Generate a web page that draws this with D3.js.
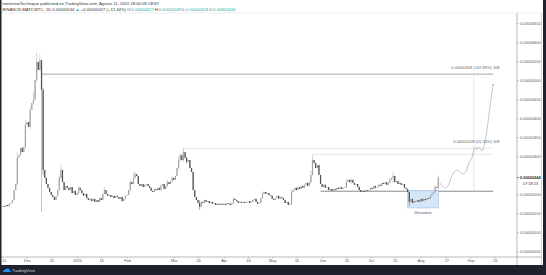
<!DOCTYPE html>
<html>
<head>
<meta charset="utf-8">
<script src="https://cdn.jsdelivr.net/npm/d3@7"></script>
<style>
html, body { margin: 0; padding: 0; background: #fff; }
svg { display: block; font-family: "Liberation Sans", Arial, sans-serif; }
</style>
</head>
<body>
<div id="okvir"></div>
<script>
// daily closes in satoshi (1e-8 BTC), first candle 2019-11-15
const firstDay = "2019-11-15"
const closes = [
  167,169,167,172,169,175,177,185,211,227,
  296,303,322,311,325,382,390,377,422,440,
  448,501,548,527,553,475,264,243,227,217,
  206,198,193,185,195,211,243,264,232,211,
  222,217,211,219,203,209,198,203,217,211,
  203,196,201,190,185,188,182,188,180,185,
  180,190,185,201,211,201,196,198,193,196,
  190,196,193,188,193,182,188,196,198,211,
  232,227,243,253,248,227,222,227,219,225,
  227,222,217,209,206,214,211,217,211,222,
  227,214,222,232,227,235,243,238,248,269,
  290,303,290,311,296,285,290,269,259,211,
  193,185,177,167,180,177,185,180,182,177,
  180,175,177,172,175,172,175,172,175,172,
  177,175,172,177,188,185,182,177,180,177,
  180,177,180,182,177,180,185,188,180,175,
  177,190,201,206,201,203,198,196,188,185,
  190,196,188,193,190,185,177,180,172,175,
  206,211,217,211,219,214,222,217,225,230,
  222,232,251,290,282,269,277,251,227,219,
  225,217,219,211,214,209,214,211,217,214,
  219,214,217,219,232,238,232,238,230,225,
  227,219,211,206,209,206,211,209,211,217,
  214,222,217,219,225,222,230,227,232,225,
  230,238,243,248,232,235,227,230,225,227,
  217,214,206,180,188,177,182,180,185,180,
  188,182,188,185,190,188,196,201,206,219,
  217,244
]
const firstOpen = 165
// candles with visible wicks: index, high, low
const wicks = [
  [10, 310, 222], [15, 395, 320], [18, 430, 372], [20, 470, 436], [22, 572, 495],
  [24, 568, 525], [26, 480, 250], [36, 250, 208], [37, 277, 240], [48, 222, 200],
  [64, 219, 198], [80, 240, 208], [82, 258, 225], [83, 261, 240], [99, 226, 208],
  [103, 238, 218], [106, 248, 232], [110, 300, 265], [111, 308, 285], [113, 322, 285],
  [115, 298, 280], [123, 185, 159], [144, 192, 175], [162, 208, 188], [180, 214, 172],
  [192, 262, 228], [193, 303, 250], [214, 240, 217], [217, 242, 228], [241, 244, 228],
  [243, 259, 230], [253, 207, 169], [269, 224, 204], [271, 249, 209]
]

const priceTicks = [650, 600, 550, 500, 450, 400, 350, 300, 200, 150, 100, 50]
const lastPrice = 244
const countdown = "07:59:23"

const timeTickDates = ["2019-11-15","2019-12-01","2019-12-16","2020-01-01","2020-01-16",
  "2020-02-01","2020-03-01","2020-03-16","2020-04-01","2020-04-16","2020-05-01","2020-05-16",
  "2020-06-01","2020-06-16","2020-07-01","2020-07-16","2020-08-01","2020-08-17","2020-09-01","2020-09-16"]
const timeTickLabels = ["15","Dec","16","2020","16","Feb","Mar","16","Apr","16","May","16",
  "Jun","16","Jul","16","Aug","17","Sep","16"]

// drawings (dates / prices in satoshi)
const topLevel = 516, baseLevel = 208, resMarch = 321, resMay = 305
const topFrom = "2019-12-10", marchFrom = "2020-03-07", mayFrom = "2020-05-26", baseFrom = "2020-05-31"
const lineEnd = "2020-09-15"
const peakDrop = { date: "2019-12-10", from: 516, to: 153 }
const measureDate = "2020-09-03"
const measureLabels = ["0.00000308 (147.89%) 308", "0.00000108 (51.33%) 108"]
const measurePrices = [516, 321]
const deviation = { from: "2020-07-24", to: "2020-08-12", high: 209, low: 164 }

const projDates = ["2020-08-13","2020-08-16","2020-08-18","2020-08-20","2020-08-22","2020-08-24",
  "2020-08-26","2020-08-27","2020-08-29","2020-08-31","2020-09-02","2020-09-03","2020-09-04",
  "2020-09-05","2020-09-06","2020-09-08","2020-09-09","2020-09-11","2020-09-13","2020-09-15"]
const projPrices = [230,217,222,245,259,264,256,253,259,283,298,317,324,317,324,314,322,364,430,488]

const header1 = "tomorrowTechnique published on TradingView.com, Agosto 11, 2020 18:00:09 CEST"
const symbol = "BINANCE:MATICBTC, 1D"
const ohlc = [["O", "0.00000217"], ["H", "0.00000249"], ["L", "0.00000209"], ["C", "0.00000244"]]

function crtaj() {
  const parse = d3.utcParse("%Y-%m-%d")
  const dim = { sirina: 546, visina: 275, paneTop: 13, paneLeft: 2, axisX: 517, axisY: 257, footer: 265 }

  const svg = d3.select("#okvir").append("svg")
    .attr("width", dim.sirina).attr("height", dim.visina)

  const xSkala = d3.scaleUtc()
    .domain([new Date(Date.UTC(2019, 10, 15, 12)), new Date(Date.UTC(2020, 8, 29, 19))])
    .range([dim.paneLeft, dim.axisX])
  const ySkala = d3.scaleLinear().domain([35, 711]).range([dim.axisY, 0])

  const start = parse(firstDay)
  const candles = closes.map((c, i) => {
    const o = i === 0 ? firstOpen : closes[i - 1]
    const w = wicks.find(d => d[0] === i)
    return { date: d3.utcDay.offset(start, i), o, c,
      h: w ? w[1] : Math.max(o, c), l: w ? w[2] : Math.min(o, c) }
  })

  // frame
  svg.append("rect").attr("width", dim.sirina).attr("height", dim.visina).attr("fill", "#fff")
  svg.append("line").attr("x1", 0).attr("x2", 543).attr("y1", dim.paneTop).attr("y2", dim.paneTop)
    .attr("stroke", "#e0e3eb").attr("stroke-width", 0.6)

  const pane = svg.append("g")
  pane.append("clipPath").attr("id", "clip").append("rect")
    .attr("x", dim.paneLeft).attr("y", dim.paneTop)
    .attr("width", dim.axisX - dim.paneLeft).attr("height", dim.axisY - dim.paneTop)
  const g = pane.append("g").attr("clip-path", "url(#clip)")

  // horizontal levels
  const hline = (from, price, color, dash, w) => g.append("line")
    .attr("x1", xSkala(parse(from))).attr("x2", xSkala(parse(lineEnd)))
    .attr("y1", ySkala(price)).attr("y2", ySkala(price))
    .attr("stroke", color).attr("stroke-width", w).attr("stroke-dasharray", dash)
  hline(topFrom, topLevel, "#8f8f8f", null, 0.8)
  hline(marchFrom, resMarch, "#a8a8a8", "1,1", 0.6)
  hline(mayFrom, resMay, "#a8a8a8", "1,1", 0.6)
  hline(baseFrom, baseLevel, "#6e6e6e", null, 0.8)

  // vertical lines
  g.append("line")
    .attr("x1", xSkala(parse(peakDrop.date))).attr("x2", xSkala(parse(peakDrop.date)))
    .attr("y1", ySkala(peakDrop.from)).attr("y2", ySkala(peakDrop.to))
    .attr("stroke", "#9a9a9a").attr("stroke-width", 0.6)
  g.append("line")
    .attr("x1", xSkala(parse(measureDate))).attr("x2", xSkala(parse(measureDate)))
    .attr("y1", ySkala(topLevel)).attr("y2", ySkala(baseLevel))
    .attr("stroke", "#d6d6d6").attr("stroke-width", 0.6)

  // deviation box
  g.append("rect")
    .attr("x", xSkala(parse(deviation.from))).attr("y", ySkala(deviation.high))
    .attr("width", xSkala(parse(deviation.to)) - xSkala(parse(deviation.from)))
    .attr("height", ySkala(deviation.low) - ySkala(deviation.high))
    .attr("fill", "#d4e6f7").attr("stroke", "#8db7e0").attr("stroke-width", 0.5)
  g.append("text")
    .attr("x", (xSkala(parse(deviation.from)) + xSkala(parse(deviation.to))) / 2)
    .attr("y", ySkala(deviation.low) + 6)
    .attr("text-anchor", "middle").attr("font-size", 4.2).attr("font-style", "italic")
    .attr("fill", "#555").text("Deviation")

  // candles
  const bw = 1.2
  const cg = g.append("g")
  cg.selectAll("line").data(candles).join("line")
    .attr("x1", d => xSkala(d.date)).attr("x2", d => xSkala(d.date))
    .attr("y1", d => ySkala(d.h)).attr("y2", d => ySkala(d.l))
    .attr("stroke", d => d.c >= d.o ? "#9b9b9b" : "#4f4f4f").attr("stroke-width", 0.45)
  cg.selectAll("rect").data(candles).join("rect")
    .attr("x", d => xSkala(d.date) - bw / 2).attr("width", bw)
    .attr("y", d => ySkala(Math.max(d.o, d.c)))
    .attr("height", d => Math.max(0.6, Math.abs(ySkala(d.o) - ySkala(d.c))))
    .attr("fill", d => d.c >= d.o ? "#a3a3a3" : "#4f4f4f")

  // projection path
  const proj = projDates.map((d, i) => ({ date: parse(d), p: projPrices[i] }))
  g.append("path").datum(proj)
    .attr("d", d3.line().x(d => xSkala(d.date)).y(d => ySkala(d.p)).curve(d3.curveCatmullRom))
    .attr("fill", "none").attr("stroke", "#a0a0a0").attr("stroke-width", 0.6)
  g.append("circle").attr("cx", xSkala(proj[proj.length - 1].date)).attr("cy", ySkala(proj[proj.length - 1].p))
    .attr("r", 0.7).attr("fill", "#999")

  // measure labels
  measureLabels.forEach((t, i) => {
    g.append("text").attr("x", xSkala(parse("2020-09-19"))).attr("y", ySkala(measurePrices[i]) - 5)
      .attr("text-anchor", "end").attr("font-size", 4).attr("fill", "#666").text(t)
  })

  // price axis
  svg.append("line").attr("x1", dim.axisX).attr("x2", dim.axisX).attr("y1", dim.paneTop).attr("y2", dim.footer)
    .attr("stroke", "#8a8a8a").attr("stroke-width", 0.6)
  svg.append("line").attr("x1", 541.5).attr("x2", 541.5).attr("y1", dim.paneTop).attr("y2", dim.footer)
    .attr("stroke", "#bbb").attr("stroke-width", 0.6)
  const yOs = svg.append("g").attr("transform", `translate(${dim.axisX},0)`)
    .call(d3.axisRight(ySkala).tickValues(priceTicks).tickSize(2).tickPadding(1)
      .tickFormat(d => (d * 1e-8).toFixed(8)))
  yOs.select(".domain").remove()
  yOs.selectAll("line").attr("stroke", "#8a8a8a").attr("stroke-width", 0.5)
  yOs.selectAll("text").attr("font-size", 3.9).attr("fill", "#555").attr("font-family", "Liberation Sans")

  const ly = ySkala(lastPrice)
  svg.append("line").attr("x1", dim.axisX).attr("x2", dim.axisX + 2).attr("y1", ly).attr("y2", ly)
    .attr("stroke", "#333").attr("stroke-width", 0.6)
  svg.append("text").attr("x", dim.axisX + 3).attr("y", ly + 1.4).attr("font-size", 3.9)
    .attr("fill", "#222").attr("font-weight", "bold").text((lastPrice * 1e-8).toFixed(8))
  svg.append("text").attr("x", dim.axisX + 6).attr("y", ly + 7.2).attr("font-size", 3.9)
    .attr("fill", "#333").text(countdown)

  // time axis
  svg.append("line").attr("x1", 0).attr("x2", 541.5).attr("y1", dim.axisY).attr("y2", dim.axisY)
    .attr("stroke", "#8a8a8a").attr("stroke-width", 0.6)
  const xOs = svg.append("g").attr("transform", `translate(0,${dim.axisY})`)
    .call(d3.axisBottom(xSkala).tickValues(timeTickDates.map(parse)).tickSize(1.5).tickPadding(1)
      .tickFormat((d, i) => timeTickLabels[i]))
  xOs.select(".domain").remove()
  xOs.selectAll("line").attr("stroke", "#8a8a8a").attr("stroke-width", 0.5)
  xOs.selectAll("text").attr("font-size", 3.9).attr("fill", "#555").attr("font-family", "Liberation Sans")
  xOs.select(".tick text").attr("dx", 2.5)

  // dark edges and footer
  svg.append("rect").attr("x", 0).attr("y", 0).attr("width", 1.5).attr("height", dim.visina).attr("fill", "#1e222d")
  svg.append("rect").attr("x", 543).attr("y", 0).attr("width", 3).attr("height", dim.visina).attr("fill", "#1e222d")
  svg.append("rect").attr("x", 0).attr("y", dim.footer).attr("width", dim.sirina).attr("height", dim.visina - dim.footer)
    .attr("fill", "#1e222d")
  const logo = svg.append("g").attr("transform", "translate(3,268)")
  logo.append("path").attr("d", "M0,4 Q0,1.6 2.4,1.8 Q3.3,0 5.2,0.6 Q6.6,0.9 6.6,2.4 Q8,2.6 8,4 Z").attr("fill", "#2196f3")
  svg.append("text").attr("x", 12).attr("y", 272).attr("font-size", 4.2).attr("fill", "#d1d4dc").text("TradingView")

  // header
  svg.append("text").attr("x", 2.5).attr("y", 4.8).attr("font-size", 4.2).attr("fill", "#333").text(header1)
  const h2 = svg.append("text").attr("x", 2.5).attr("y", 10.8).attr("font-size", 4.2).attr("fill", "#333")
  h2.append("tspan").text(symbol + "  0.00000244 ")
  h2.append("tspan").attr("fill", "#26a69a").text("▲")
  h2.append("tspan").text(" +0.00000027 (+12.44%) ")
  ohlc.forEach(([k, v]) => {
    h2.append("tspan").text(" " + k + ":")
    h2.append("tspan").attr("fill", "#26a69a").text(v)
  })
}
crtaj()
</script>
</body>
</html>
